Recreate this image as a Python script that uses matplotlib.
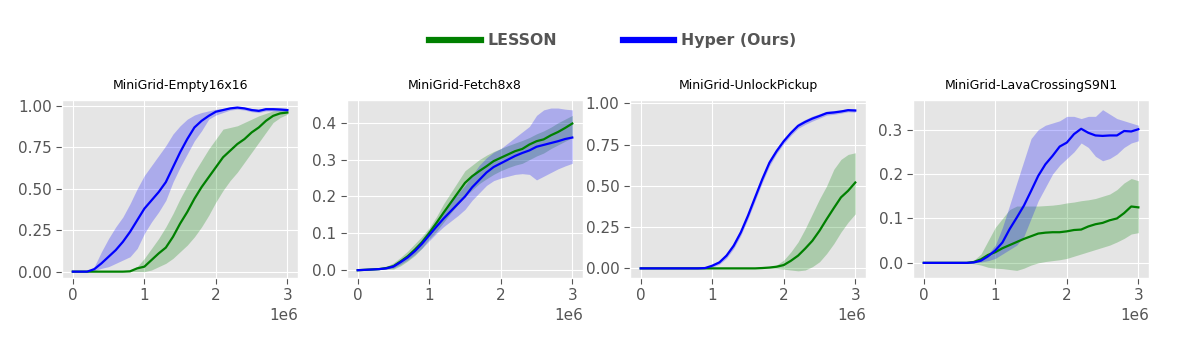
import matplotlib
matplotlib.use('Agg')
import matplotlib.pyplot as plt
import numpy as np

plt.style.use('ggplot')

# environment steps, every 1e5 from 0 to 3e6
steps = np.arange(31) * 1e5

titles = ['MiniGrid-Empty16x16', 'MiniGrid-Fetch8x8',
          'MiniGrid-UnlockPickup', 'MiniGrid-LavaCrossingS9N1']

# ---- MiniGrid-Empty16x16
empty_hyper = [0, 0, 0, 0.015, 0.05, 0.09, 0.13, 0.18, 0.24, 0.31, 0.38,
               0.43, 0.48, 0.54, 0.63, 0.72, 0.8, 0.87, 0.91, 0.94, 0.965,
               0.975, 0.985, 0.99, 0.985, 0.975, 0.97, 0.98, 0.98, 0.978, 0.975]
empty_hyper_lo = [0, 0, 0, 0.005, 0.02, 0.03, 0.05, 0.07, 0.09, 0.14, 0.23,
                  0.3, 0.36, 0.43, 0.54, 0.63, 0.71, 0.79, 0.85, 0.92, 0.945,
                  0.96, 0.975, 0.98, 0.975, 0.965, 0.96, 0.97, 0.97, 0.97, 0.965]
empty_hyper_hi = [0, 0, 0, 0.03, 0.12, 0.2, 0.27, 0.33, 0.41, 0.5, 0.58,
                  0.64, 0.7, 0.76, 0.83, 0.88, 0.92, 0.945, 0.96, 0.97, 0.98,
                  0.985, 0.99, 0.995, 0.99, 0.985, 0.98, 0.99, 0.99, 0.988, 0.985]
empty_lesson = [0, 0, 0, 0, 0, 0, 0, 0, 0.002, 0.02, 0.03,
                0.07, 0.11, 0.145, 0.21, 0.29, 0.36, 0.44, 0.51, 0.57, 0.63,
                0.69, 0.73, 0.77, 0.8, 0.84, 0.87, 0.91, 0.94, 0.955, 0.96]
empty_lesson_lo = [0, 0, 0, 0, 0, 0, 0, 0, 0, 0, 0,
                   0.01, 0.03, 0.05, 0.08, 0.12, 0.16, 0.21, 0.27, 0.34, 0.42,
                   0.49, 0.55, 0.6, 0.66, 0.72, 0.78, 0.84, 0.9, 0.93, 0.95]
empty_lesson_hi = [0, 0, 0, 0, 0, 0, 0, 0, 0.005, 0.03, 0.08,
                   0.14, 0.2, 0.27, 0.35, 0.44, 0.52, 0.6, 0.67, 0.74, 0.8,
                   0.86, 0.87, 0.88, 0.9, 0.92, 0.94, 0.955, 0.97, 0.975, 0.98]

# ---- MiniGrid-Fetch8x8
fetch_hyper = [0, 0.001, 0.002, 0.003, 0.005, 0.01, 0.022, 0.035, 0.052, 0.072, 0.095,
               0.118, 0.14, 0.16, 0.18, 0.2, 0.225, 0.245, 0.265, 0.28, 0.29,
               0.3, 0.31, 0.318, 0.325, 0.335, 0.34, 0.345, 0.35, 0.356, 0.36]
fetch_hyper_lo = [0, 0, 0.001, 0.002, 0.003, 0.006, 0.016, 0.028, 0.043, 0.06, 0.08,
                  0.1, 0.118, 0.133, 0.148, 0.165, 0.19, 0.21, 0.23, 0.243, 0.25,
                  0.255, 0.26, 0.262, 0.26, 0.245, 0.255, 0.265, 0.275, 0.283, 0.29]
fetch_hyper_hi = [0, 0.002, 0.004, 0.005, 0.008, 0.015, 0.028, 0.042, 0.062, 0.085, 0.11,
                  0.135, 0.16, 0.185, 0.208, 0.23, 0.258, 0.285, 0.305, 0.32, 0.33,
                  0.345, 0.36, 0.375, 0.39, 0.42, 0.435, 0.44, 0.44, 0.437, 0.435]
fetch_lesson = [0, 0.001, 0.002, 0.003, 0.006, 0.011, 0.024, 0.038, 0.056, 0.076, 0.101,
                0.128, 0.156, 0.183, 0.21, 0.237, 0.255, 0.269, 0.282, 0.296, 0.305,
                0.314, 0.323, 0.329, 0.341, 0.35, 0.355, 0.366, 0.375, 0.386, 0.398]
fetch_lesson_lo = [0, 0, 0.001, 0.002, 0.003, 0.003, 0.012, 0.025, 0.04, 0.06, 0.085,
                   0.105, 0.13, 0.155, 0.178, 0.2, 0.218, 0.235, 0.248, 0.26, 0.27,
                   0.278, 0.285, 0.29, 0.3, 0.31, 0.318, 0.33, 0.34, 0.35, 0.36]
fetch_lesson_hi = [0, 0.002, 0.003, 0.005, 0.01, 0.02, 0.035, 0.052, 0.072, 0.092, 0.115,
                   0.145, 0.18, 0.21, 0.24, 0.27, 0.285, 0.3, 0.312, 0.322, 0.33,
                   0.338, 0.345, 0.352, 0.36, 0.37, 0.378, 0.388, 0.4, 0.41, 0.42]

# ---- MiniGrid-UnlockPickup
unlock_hyper = [0, 0, 0, 0, 0, 0, 0, 0, 0, 0.002, 0.016,
                0.036, 0.077, 0.137, 0.218, 0.319, 0.43, 0.54, 0.64, 0.71, 0.77,
                0.82, 0.863, 0.887, 0.907, 0.923, 0.94, 0.944, 0.95, 0.958, 0.956]
unlock_hyper_lo = [0, 0, 0, 0, 0, 0, 0, 0, 0, 0, 0.008,
                   0.025, 0.062, 0.12, 0.2, 0.3, 0.41, 0.52, 0.62, 0.695, 0.755,
                   0.805, 0.848, 0.872, 0.892, 0.91, 0.928, 0.933, 0.94, 0.948, 0.946]
unlock_hyper_hi = [0, 0, 0, 0, 0, 0, 0, 0, 0, 0.005, 0.025,
                   0.048, 0.092, 0.155, 0.236, 0.338, 0.45, 0.56, 0.66, 0.725, 0.785,
                   0.835, 0.878, 0.902, 0.922, 0.936, 0.952, 0.956, 0.96, 0.968, 0.966]
unlock_lesson = [0, 0, 0, 0, 0, 0, 0, 0, 0, 0, 0,
                 0, 0, 0, 0, 0, 0, 0.002, 0.005, 0.01, 0.02,
                 0.046, 0.077, 0.12, 0.167, 0.228, 0.298, 0.365, 0.43, 0.47, 0.52]
unlock_lesson_lo = [0, 0, 0, 0, 0, 0, 0, 0, 0, 0, 0,
                    0, 0, 0, 0, 0, 0, 0, 0, 0, -0.005,
                    -0.01, -0.015, -0.01, 0.01, 0.04, 0.09, 0.15, 0.22, 0.28, 0.33]
unlock_lesson_hi = [0, 0, 0, 0, 0, 0, 0, 0, 0, 0, 0,
                    0, 0, 0, 0, 0, 0, 0.005, 0.01, 0.02, 0.05,
                    0.1, 0.16, 0.24, 0.33, 0.42, 0.5, 0.6, 0.66, 0.69, 0.7]

# ---- MiniGrid-LavaCrossingS9N1
lava_hyper = [0, 0, 0, 0, 0, 0, 0, 0.001, 0.005, 0.015, 0.028,
              0.046, 0.076, 0.102, 0.129, 0.162, 0.196, 0.222, 0.241, 0.262, 0.271,
              0.29, 0.302, 0.293, 0.287, 0.286, 0.287, 0.287, 0.297, 0.296, 0.301]
lava_hyper_lo = [0, 0, 0, 0, 0, 0, 0, 0, 0.002, 0.005, 0.01,
                 0.02, 0.03, 0.04, 0.06, 0.1, 0.14, 0.17, 0.2, 0.22, 0.235,
                 0.25, 0.27, 0.26, 0.24, 0.23, 0.235, 0.245, 0.26, 0.27, 0.275]
lava_hyper_hi = [0, 0, 0, 0, 0, 0, 0, 0.002, 0.01, 0.02, 0.04,
                 0.08, 0.13, 0.18, 0.23, 0.28, 0.3, 0.31, 0.315, 0.32, 0.33,
                 0.33, 0.325, 0.33, 0.33, 0.345, 0.335, 0.325, 0.32, 0.315, 0.31]
lava_lesson = [0, 0, 0, 0, 0, 0, 0, 0.002, 0.008, 0.018, 0.024,
               0.033, 0.04, 0.047, 0.054, 0.06, 0.066, 0.068, 0.069, 0.069, 0.071,
               0.074, 0.075, 0.082, 0.087, 0.09, 0.096, 0.1, 0.112, 0.127, 0.125]
lava_lesson_lo = [0, 0, 0, 0, 0, 0, 0, -0.002, -0.005, -0.01, -0.012,
                  -0.013, -0.015, -0.017, -0.012, -0.005, 0, 0.003, 0.005, 0.007, 0.01,
                  0.015, 0.02, 0.025, 0.03, 0.035, 0.04, 0.047, 0.055, 0.065, 0.068]
lava_lesson_hi = [0, 0, 0, 0, 0, 0, 0, 0.006, 0.02, 0.05, 0.08,
                  0.1, 0.12, 0.128, 0.128, 0.128, 0.128, 0.129, 0.13, 0.132, 0.135,
                  0.137, 0.14, 0.142, 0.145, 0.15, 0.155, 0.165, 0.18, 0.19, 0.185]

panels = [
    (empty_lesson, empty_lesson_lo, empty_lesson_hi, empty_hyper, empty_hyper_lo, empty_hyper_hi),
    (fetch_lesson, fetch_lesson_lo, fetch_lesson_hi, fetch_hyper, fetch_hyper_lo, fetch_hyper_hi),
    (unlock_lesson, unlock_lesson_lo, unlock_lesson_hi, unlock_hyper, unlock_hyper_lo, unlock_hyper_hi),
    (lava_lesson, lava_lesson_lo, lava_lesson_hi, lava_hyper, lava_hyper_lo, lava_hyper_hi),
]
ylims = [(-0.038, 1.036), (-0.021, 0.462), (-0.058, 1.02), (-0.034, 0.367)]
yticks = [[0, 0.25, 0.5, 0.75, 1.0], [0, 0.1, 0.2, 0.3, 0.4],
          [0, 0.25, 0.5, 0.75, 1.0], [0, 0.1, 0.2, 0.3]]

fig = plt.figure(figsize=(11.94, 3.47), dpi=100)
lefts = [0.052, 0.2906, 0.5276, 0.7647]

for i in range(4):
	ax = fig.add_axes([lefts[i], 0.199, 0.1977, 0.513])
	les, les_lo, les_hi, hyp, hyp_lo, hyp_hi = panels[i]
	ax.fill_between(steps, les_lo, les_hi, color='green', alpha=0.25, lw=0)
	ax.fill_between(steps, hyp_lo, hyp_hi, color='blue', alpha=0.25, lw=0)
	ax.plot(steps, les, color='green', lw=1.6, label='LESSON')
	ax.plot(steps, hyp, color='blue', lw=1.6, label='Hyper (Ours)')
	ax.set_ylim(*ylims[i])
	ax.set_yticks(yticks[i])
	if i in (0, 2):
		ax.set_yticklabels(['%.2f' % v for v in yticks[i]])
	ax.set_xticks([0, 1e6, 2e6, 3e6])
	ax.tick_params(labelsize=11, colors='#555555', length=4)
	ax.xaxis.get_offset_text().set_fontsize(11)
	ax.xaxis.get_offset_text().set_color('#555555')
	ax.set_title(titles[i], fontsize=9, pad=8)

handles, labels = ax.get_legend_handles_labels()
leg = fig.legend(handles, labels, loc='center', bbox_to_anchor=(0.513, 0.882),
                 ncol=2, frameon=False, handlelength=3.3, handletextpad=0.4,
                 columnspacing=4.2, prop={'weight': 'bold', 'size': 11.3})
for h in leg.get_lines():
	h.set_linewidth(4.5)
for t in leg.get_texts():
	t.set_color('#555555')

fig.savefig('out.png', dpi=100)
